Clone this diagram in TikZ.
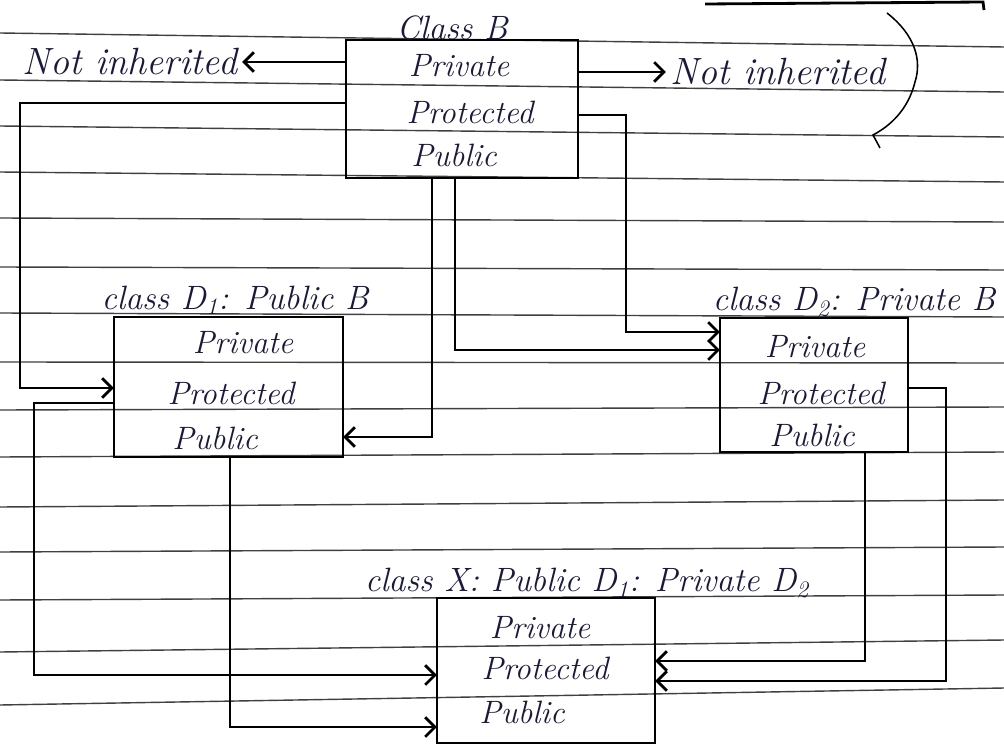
\documentclass[tikz,border=0pt]{standalone}
\usetikzlibrary{arrows.meta}
\definecolor{ink}{RGB}{25,25,60}

\begin{document}
\begin{tikzpicture}[x=0.025cm, y=-0.025cm,
  classbox/.style={draw, line width=2pt, inner sep=0pt, outer sep=0pt},
  entry/.style={text=ink, font=\fontsize{23}{25}\selectfont\itshape},
  title/.style={text=ink, font=\fontsize{24}{26}\selectfont\itshape},
  note/.style={text=ink, font=\fontsize{27}{29}\selectfont\itshape},
  inh/.style={line width=2pt, -{Straight Barb[length=7pt,width=14pt]}},
  ruled/.style={black!75, line width=1pt}]
  \useasboundingbox[fill=white] (0,0) rectangle (1004,747);

  % lines of the notebook page
  \foreach \l/\r in {33/47, 80/92, 126/137, 172/182, 218/222, 267/270,
                     313/317, 362/363, 410/407, 457/452, 507/500, 552/547,
                     600/595, 652/640, 705/688}
    \draw[ruled] (0,\l) -- (1004,\r);
  \draw[line width=2pt] (705,4) -- (983,2) -- (984,10);
  \draw[line width=1.1pt] (887,13) .. controls (915,35) and (922,60) .. (915,82)
    .. controls (908,110) and (890,126) .. (873,135) -- (880,148);

  % base class B
  \node[classbox, minimum width=5.8cm, minimum height=3.45cm] (B) at (462,109) {};
  \node[title] (Btitle) at (452,28) {Class B};
  \node[entry] (Bpriv) at (459,66) {Private};
  \node[entry] (Bprot) at (470,112) {Protected};
  \node[entry] (Bpub) at (454,155) {Public};
  \node[note] (NIleft) at (130,62) {Not inherited};
  \node[note] (NIright) at (778,72) {Not inherited};

  % class D1
  \node[classbox, minimum width=5.725cm, minimum height=3.5cm] (D1) at (228.5,387) {};
  \node[title] (D1title) at (235,300) {class D\textsubscript{1}: Public B};
  \node[entry] (D1priv) at (243,343) {Private};
  \node[entry] (D1prot) at (231,393) {Protected};
  \node[entry] (D1pub) at (215,438) {Public};

  % class D2
  \node[classbox, minimum width=4.7cm, minimum height=3.35cm] (D2) at (814,385) {};
  \node[title] (D2title) at (854,302) {class D\textsubscript{2}: Private B};
  \node[entry] (D2priv) at (815,347) {Private};
  \node[entry] (D2prot) at (821,393) {Protected};
  \node[entry] (D2pub) at (812,435) {Public};

  % class X
  \node[classbox, minimum width=5.45cm, minimum height=3.625cm] (X) at (546,670.5) {};
  \node[title] (Xtitle) at (587,583) {class X: Public D\textsubscript{1}: Private D\textsubscript{2}};
  \node[entry] (Xpriv) at (540,628) {Private};
  \node[entry] (Xprot) at (545,668) {Protected};
  \node[entry] (Xpub) at (522,712) {Public};

  % bends of the connectors
  \coordinate (k1a) at (20,103);   \coordinate (k1b) at (20,388);
  \coordinate (k2a) at (432,437);
  \coordinate (k3a) at (455,350);
  \coordinate (k4a) at (626,115);  \coordinate (k4b) at (626,332);
  \coordinate (k5a) at (34,403);   \coordinate (k5b) at (34,675);
  \coordinate (k6a) at (230,727);
  \coordinate (k7a) at (865,661);
  \coordinate (k8a) at (946,388);  \coordinate (k8b) at (946,681);

  % private part of B
  \draw[inh] (B.west |- NIleft) -- (NIleft.east);
  \draw[inh] (B.east |- NIright) -- (NIright.west);

  % B -> D1, D2
  \draw[inh] (B.west |- k1a) -- (k1a) -- (k1b) -- (D1.west |- k1b);
  \draw[inh] (B.south -| k2a) -- (k2a) -- (D1.east |- k2a);
  \draw[inh] (B.south -| k3a) -- (k3a) -- (D2.west |- k3a);
  \draw[inh] (B.east |- k4a) -- (k4a) -- (k4b) -- (D2.west |- k4b);

  % D1, D2 -> X
  \draw[inh] (D1.west |- k5a) -- (k5a) -- (k5b) -- (X.west |- k5b);
  \draw[inh] (D1.south -| k6a) -- (k6a) -- (X.west |- k6a);
  \draw[inh] (D2.south -| k7a) -- (k7a) -- (X.east |- k7a);
  \draw[inh] (D2.east |- k8a) -- (k8a) -- (k8b) -- (X.east |- k8b);
\end{tikzpicture}
\end{document}
